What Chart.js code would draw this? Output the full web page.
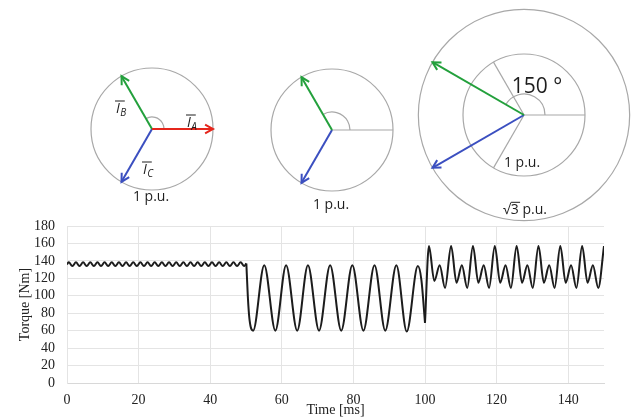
<!DOCTYPE html>
<html>
<head>
<meta charset="utf-8">
<script src="https://cdn.jsdelivr.net/npm/chart.js@4.4.1/dist/chart.umd.min.js"></script>
<style>
  html, body { margin: 0; padding: 0; background: #fff; }
  #wrap { position: relative; width: 637px; height: 419px; overflow: hidden; }
  #wrap canvas { position: absolute; }
</style>
</head>
<body>
<div id="wrap">
  <canvas id="torqueChart" width="637" height="419" style="left:0;top:0"></canvas>
  <canvas id="phasorBefore"></canvas>
  <canvas id="phasorFault"></canvas>
  <canvas id="phasorAfter"></canvas>
</div>
<script>
// torque trace (extrema of each ripple / swing)
var steadyTime = [0, 0.5, 1.5, 2.5, 3.5, 4.5, 5.5, 6.5, 7.5, 8.5, 9.5, 10.5, 11.5, 12.5, 13.5, 14.5,
    15.5, 16.5, 17.5, 18.5, 19.5, 20.5, 21.5, 22.5, 23.5, 24.5, 25.5, 26.5, 27.5, 28.5, 29.5, 30.5,
    31.5, 32.5, 33.5, 34.5, 35.5, 36.5, 37.5, 38.5, 39.5, 40.5, 41.5, 42.5, 43.5, 44.5, 45.5, 46.5,
    47.5, 48.5, 49.5, 50.1];
var steadyTorque = [136, 138.5, 134, 138.5, 134, 138.5, 134, 138.5, 134, 138.5, 134, 138.5, 134,
    138.5, 134, 138.5, 134, 138.5, 134, 138.5, 134, 138.5, 134, 138.5, 134, 138.5, 134, 138.5, 134,
    138.5, 134, 138.5, 134, 138.5, 134, 138.5, 134, 138.5, 134, 138.5, 134, 138.5, 134, 138.5, 134,
    138.5, 134, 138.5, 134, 138.5, 134, 137];

var faultTime = [50.1, 50.5, 51.0, 52.0, 55.1, 58.2, 61.2, 64.3, 67.3, 70.4, 73.5, 76.6, 79.7, 82.8,
    85.9, 88.9, 92.0, 94.9, 98.0, 99.0, 100.0];
var faultTorque = [137, 100, 72, 60, 135, 60, 135, 60, 135, 60, 135, 60, 135, 60, 135, 60, 135, 59,
    134, 118, 69];

var recoverTime = [100.0, 101.1, 102.6, 104.1, 105.6, 107.3, 108.8, 110.3, 111.8, 113.4, 114.9, 116.4,
    117.9, 119.5, 121.0, 122.5, 124.0, 125.6, 127.1, 128.6, 130.1, 131.7, 133.2, 134.7, 136.2, 137.8,
    139.3, 140.8, 142.3, 143.9, 145.4, 146.9, 148.4, 150.0];
var recoverTorque = [69, 157, 117, 135, 109, 157, 115, 135, 109, 157, 115, 135, 109, 157, 115, 135,
    109, 157, 115, 135, 109, 157, 115, 135, 109, 157, 115, 135, 109, 157, 115, 135, 109, 157];

var xTicks = [0, 20, 40, 60, 80, 100, 120, 140];
var yTicks = [0, 20, 40, 60, 80, 100, 120, 140, 160, 180];

// phasors: angle in degrees, magnitude in p.u.
var phaseNames = ['A', 'B', 'C'];
var beforeAngles = [0, 120, 240];
var beforeMags = [1, 1, 1];
var faultAngles = [120, 240];
var faultMags = [1, 1];
var afterAngles = [150, 210];
var afterMags = [Math.sqrt(3), Math.sqrt(3)];

var RED = '#e5261c', GREEN = '#23a03c', BLUE = '#3b4fc0';
var SERIF = '"Liberation Serif", "Times New Roman", serif';
var SANS = '"Open Sans", "Noto Sans", sans-serif';

function pts(xs, ys) {
    return xs.map(function(x, i) { return {x: x, y: ys[i]}; });
}

function trace(xs, ys) {
    return {
        data: pts(xs, ys),
        borderColor: '#1c1c1c',
        borderWidth: 2,
        pointRadius: 0,
        cubicInterpolationMode: 'monotone',
        fill: false
    };
}

new Chart(document.getElementById('torqueChart').getContext('2d'), {
    type: 'line',
    data: {
        datasets: [
            trace(steadyTime, steadyTorque),
            trace(faultTime, faultTorque),
            trace(recoverTime, recoverTorque)
        ]
    },
    options: {
        responsive: false,
        animation: false,
        events: [],
        layout: {padding: {top: 226, right: 33, left: 0, bottom: 0}},
        plugins: {legend: {display: false}, tooltip: {enabled: false}},
        scales: {
            x: {
                type: 'linear', min: 0, max: 150,
                afterBuildTicks: function(s) { s.ticks = xTicks.map(function(v) { return {value: v}; }); },
                afterFit: function(s) { s.height = 36; },
                ticks: {autoSkip: false, maxRotation: 0, padding: 9, color: '#222',
                        font: {family: SERIF, size: 14}},
                grid: {color: '#e4e4e4', drawTicks: false},
                border: {color: '#d8d8d8'},
                title: {display: true, text: 'Time [ms]', color: '#222', padding: 0,
                        font: {family: SERIF, size: 14}}
            },
            y: {
                min: 0, max: 180,
                afterBuildTicks: function(s) { s.ticks = yTicks.map(function(v) { return {value: v}; }); },
                afterFit: function(s) { s.width = 67; },
                ticks: {autoSkip: false, padding: 12, color: '#222', font: {family: SERIF, size: 14}},
                grid: {color: '#e4e4e4', drawTicks: false},
                border: {color: '#e4e4e4'},
                title: {display: true, text: 'Torque [Nm]', color: '#222', padding: {top: 17, bottom: 0},
                        font: {family: SERIF, size: 14}}
            }
        }
    }
});

// circles, guides, arrow heads and labels around the phasor lines
function phasorDecor(deco) {
    return {
        id: 'phasorDecor',
        beforeDatasetsDraw: function(chart) {
            var ctx = chart.ctx, sx = chart.scales.x, sy = chart.scales.y;
            var cx = sx.getPixelForValue(0), cy = sy.getPixelForValue(0);
            var u = sx.getPixelForValue(1) - cx;
            ctx.save();
            ctx.strokeStyle = '#a8a8a8';
            ctx.lineWidth = 1.2;
            deco.rings.forEach(function(r) {
                ctx.beginPath(); ctx.arc(cx, cy, r * u, 0, 2 * Math.PI); ctx.stroke();
            });
            deco.guides.forEach(function(a) {
                var t = a * Math.PI / 180;
                ctx.beginPath(); ctx.moveTo(cx, cy);
                ctx.lineTo(cx + u * Math.cos(t), cy - u * Math.sin(t)); ctx.stroke();
            });
            deco.arcs.forEach(function(ar) {
                ctx.beginPath();
                ctx.arc(cx, cy, ar.r, -ar.to * Math.PI / 180, -ar.from * Math.PI / 180);
                ctx.stroke();
            });
            ctx.restore();
        },
        afterDatasetsDraw: function(chart) {
            var ctx = chart.ctx, sx = chart.scales.x, sy = chart.scales.y;
            var cx = sx.getPixelForValue(0), cy = sy.getPixelForValue(0);
            ctx.save();
            chart.data.datasets.forEach(function(ds, i) {
                var tip = chart.getDatasetMeta(i).data[1];
                var ang = Math.atan2(tip.y - cy, tip.x - cx);
                ctx.strokeStyle = ds.borderColor;
                ctx.lineWidth = 2;
                ctx.beginPath();
                ctx.moveTo(tip.x - 9 * Math.cos(ang - 0.5), tip.y - 9 * Math.sin(ang - 0.5));
                ctx.lineTo(tip.x, tip.y);
                ctx.lineTo(tip.x - 9 * Math.cos(ang + 0.5), tip.y - 9 * Math.sin(ang + 0.5));
                ctx.stroke();
            });
            ctx.fillStyle = '#1e1e1e';
            ctx.strokeStyle = '#1e1e1e';
            ctx.textBaseline = 'middle';
            ctx.textAlign = 'center';
            deco.texts.forEach(function(t) {
                ctx.font = t.size + 'px ' + SANS;
                ctx.fillText(t.text, cx + t.dx, cy + t.dy);
                if (t.bar) {
                    // overline on the 3 of the square root
                    var w = ctx.measureText(t.text).width;
                    var x0 = cx + t.dx - w / 2 + t.bar[0];
                    ctx.lineWidth = 1;
                    ctx.beginPath();
                    ctx.moveTo(x0, cy + t.dy - t.size * 0.55);
                    ctx.lineTo(x0 + t.bar[1], cy + t.dy - t.size * 0.55);
                    ctx.stroke();
                }
            });
            ctx.textAlign = 'left';
            ctx.textBaseline = 'alphabetic';
            (deco.names || []).forEach(function(n) {
                var x = cx + n.dx, y = cy + n.dy;
                ctx.font = 'italic 14px ' + SANS;
                ctx.fillText('I', x, y);
                var wI = ctx.measureText('I').width;
                ctx.font = 'italic 10px ' + SANS;
                ctx.fillText(n.sub, x + wI + 0.5, y + 3);
                ctx.lineWidth = 1;
                ctx.beginPath();
                ctx.moveTo(x - 1, y - 12);
                ctx.lineTo(x + wI + 5, y - 12);
                ctx.stroke();
            });
            ctx.restore();
        }
    };
}

function phasorChart(id, box, centre, unit, angles, mags, colors, deco) {
    var el = document.getElementById(id);
    el.width = box.w;
    el.height = box.h;
    el.style.left = box.x + 'px';
    el.style.top = box.y + 'px';
    var datasets = angles.map(function(a, i) {
        var t = a * Math.PI / 180;
        return {
            data: [{x: 0, y: 0}, {x: mags[i] * Math.cos(t), y: mags[i] * Math.sin(t)}],
            showLine: true,
            borderColor: colors[i],
            borderWidth: 2,
            pointRadius: 0
        };
    });
    return new Chart(el.getContext('2d'), {
        type: 'scatter',
        data: {datasets: datasets},
        options: {
            responsive: false,
            animation: false,
            events: [],
            layout: {padding: 0},
            plugins: {legend: {display: false}, tooltip: {enabled: false}},
            scales: {
                x: {display: false, min: (box.x - centre.x) / unit, max: (box.x + box.w - centre.x) / unit},
                y: {display: false, min: (centre.y - box.y - box.h) / unit, max: (centre.y - box.y) / unit}
            }
        },
        plugins: [phasorDecor(deco)]
    });
}

phasorChart('phasorBefore', {x: 62, y: 49, w: 180, h: 165}, {x: 152, y: 129}, 61,
    beforeAngles, beforeMags, [RED, GREEN, BLUE], {
        rings: [1], guides: [], arcs: [{r: 12, from: 0, to: 120}],
        texts: [{text: '1 p.u.', dx: -1, dy: 68, size: 14}],
        names: [{sub: phaseNames[0], dx: 35, dy: -2}, {sub: phaseNames[1], dx: -36, dy: -16},
                {sub: phaseNames[2], dx: -9, dy: 45}]
    });

phasorChart('phasorFault', {x: 242, y: 50, w: 180, h: 165}, {x: 332, y: 130}, 61,
    faultAngles, faultMags, [GREEN, BLUE], {
        rings: [1], guides: [0], arcs: [{r: 18, from: 0, to: 120}],
        texts: [{text: '1 p.u.', dx: -1, dy: 75, size: 14}]
    });

phasorChart('phasorAfter', {x: 410, y: 0, w: 227, h: 226}, {x: 524, y: 115}, 61,
    afterAngles, afterMags, [GREEN, BLUE], {
        rings: [1, Math.sqrt(3)], guides: [0, 120, 240], arcs: [{r: 21, from: 0, to: 150}],
        texts: [{text: '150 °', dx: 13, dy: -28, size: 21},
                {text: '1 p.u.', dx: -2, dy: 48, size: 14},
                {text: '√3 p.u.', dx: 1, dy: 95, size: 14, bar: [8, 9]}]
    });
</script>
</body>
</html>
